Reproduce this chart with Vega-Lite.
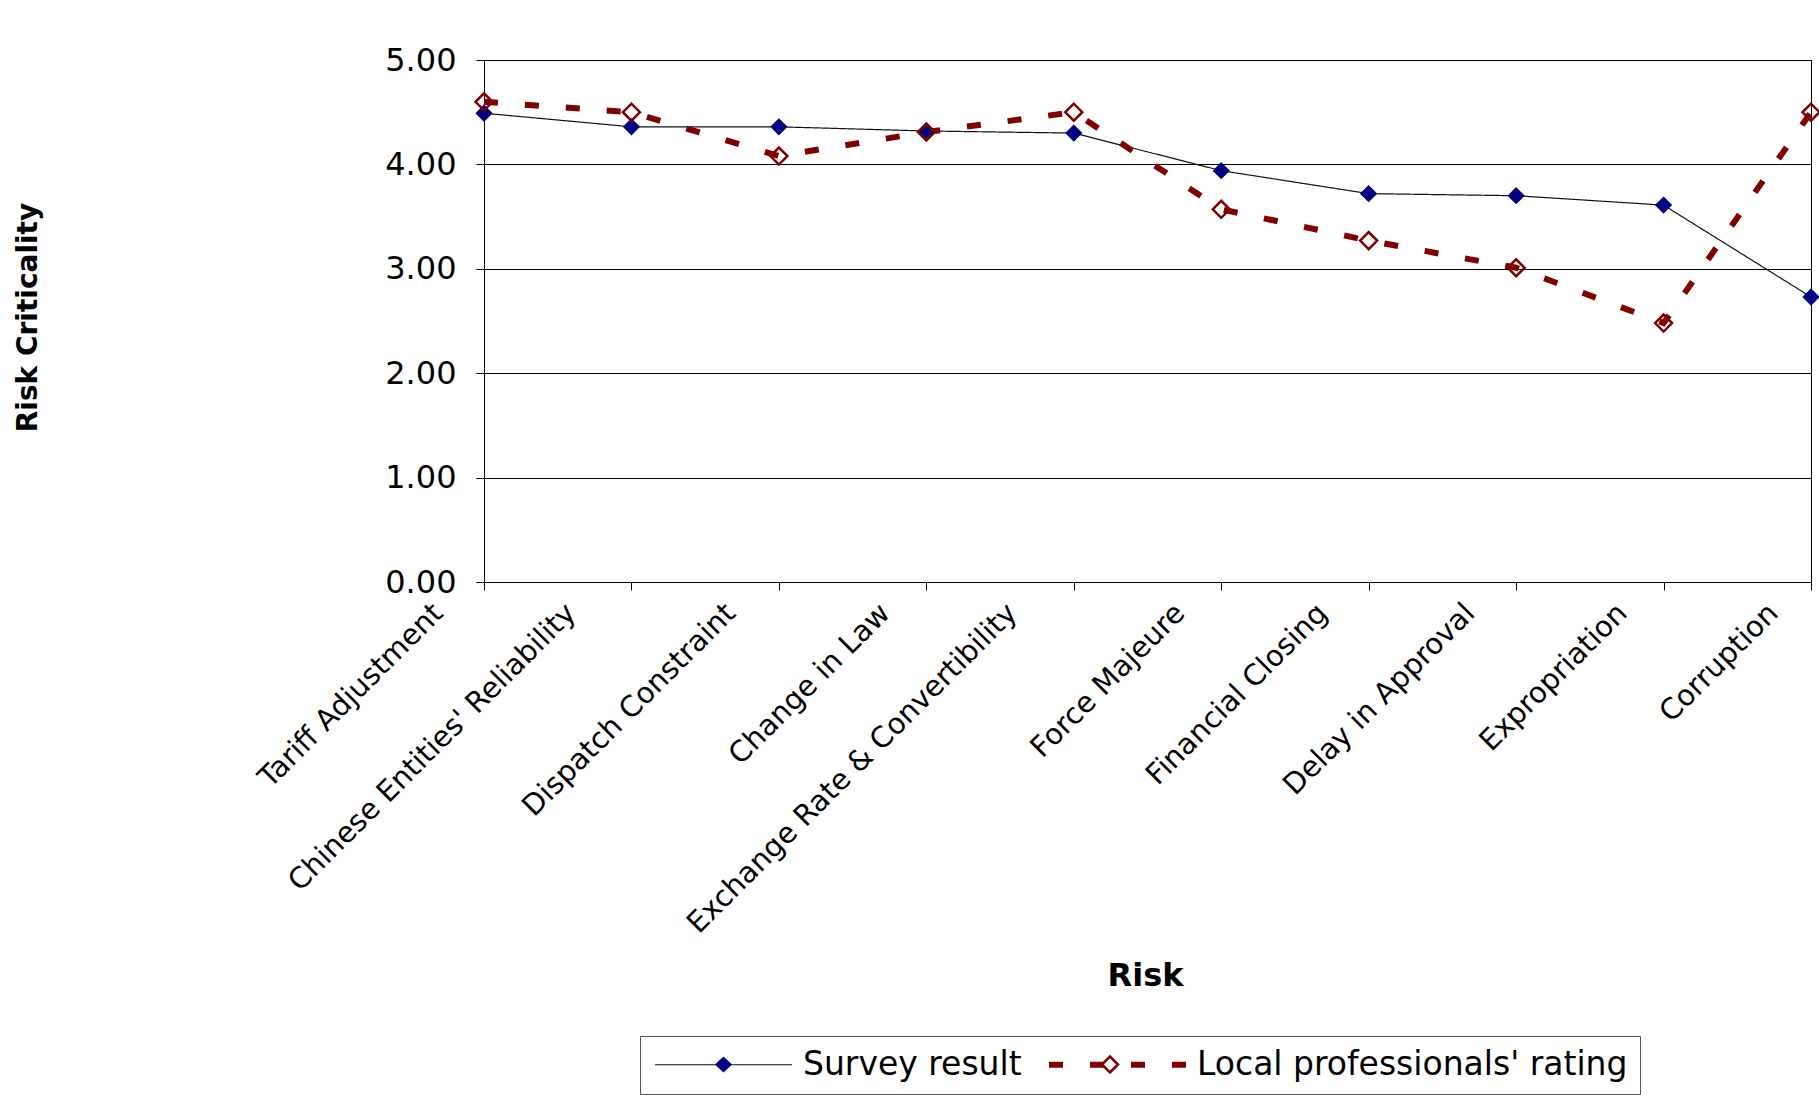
{
  "$schema": "https://vega.github.io/schema/vega-lite/v6.json",
  "width": 1327,
  "height": 522,
  "autosize": {"type": "none"},
  "padding": {"left": 484, "top": 60, "right": 8, "bottom": 513},
  "background": "white",
  "config": {
    "font": "DejaVu Sans",
    "view": {"stroke": "#000", "strokeWidth": 1}
  },
  "data": {
    "values": [
      {"risk": "Tariff Adjustment", "series": "Survey result", "value": 4.49},
      {"risk": "Chinese Entities' Reliability", "series": "Survey result", "value": 4.36},
      {"risk": "Dispatch Constraint", "series": "Survey result", "value": 4.36},
      {"risk": "Change in Law", "series": "Survey result", "value": 4.32},
      {"risk": "Exchange Rate & Convertibility", "series": "Survey result", "value": 4.30},
      {"risk": "Force Majeure", "series": "Survey result", "value": 3.94},
      {"risk": "Financial Closing", "series": "Survey result", "value": 3.72},
      {"risk": "Delay in Approval", "series": "Survey result", "value": 3.70},
      {"risk": "Expropriation", "series": "Survey result", "value": 3.61},
      {"risk": "Corruption", "series": "Survey result", "value": 2.73},
      {"risk": "Tariff Adjustment", "series": "Local professionals' rating", "value": 4.60},
      {"risk": "Chinese Entities' Reliability", "series": "Local professionals' rating", "value": 4.50},
      {"risk": "Dispatch Constraint", "series": "Local professionals' rating", "value": 4.08},
      {"risk": "Change in Law", "series": "Local professionals' rating", "value": 4.31},
      {"risk": "Exchange Rate & Convertibility", "series": "Local professionals' rating", "value": 4.50},
      {"risk": "Force Majeure", "series": "Local professionals' rating", "value": 3.57},
      {"risk": "Financial Closing", "series": "Local professionals' rating", "value": 3.27},
      {"risk": "Delay in Approval", "series": "Local professionals' rating", "value": 3.01},
      {"risk": "Expropriation", "series": "Local professionals' rating", "value": 2.48},
      {"risk": "Corruption", "series": "Local professionals' rating", "value": 4.50}
    ]
  },
  "encoding": {
    "x": {
      "field": "risk",
      "type": "nominal",
      "sort": ["Tariff Adjustment", "Chinese Entities' Reliability", "Dispatch Constraint", "Change in Law", "Exchange Rate & Convertibility", "Force Majeure", "Financial Closing", "Delay in Approval", "Expropriation", "Corruption"],
      "scale": {"type": "point", "padding": 0},
      "axis": {
        "title": "Risk",
        "labelAngle": -45,
        "labelAlign": "right",
        "labelBaseline": "middle",
        "labelFontSize": 29,
        "labelColor": "#000",
        "labelOffset": {"expr": "-26 - 1.2 * length(datum.value)"},
        "labelPadding": 18,
        "labelLimit": 800,
        "labelOverlap": false,
        "tickSize": 8,
        "tickColor": "#000",
        "domainColor": "#000",
        "grid": false,
        "titleFontSize": 32,
        "titleFontWeight": "bold",
        "titleColor": "#000",
        "titleX": 661,
        "titleY": 393,
        "titleAlign": "center",
        "titleBaseline": "middle"
      }
    },
    "y": {
      "field": "value",
      "type": "quantitative",
      "scale": {"domain": [0, 5], "nice": false},
      "axis": {
        "title": "Risk Criticality",
        "values": [0, 1, 2, 3, 4, 5],
        "format": ".2f",
        "labelFontSize": 32,
        "labelColor": "#000",
        "labelPadding": 20,
        "tickSize": 8,
        "tickColor": "#000",
        "domainColor": "#000",
        "grid": true,
        "gridColor": "#000",
        "gridWidth": 1,
        "titleFontSize": 28,
        "titleFontWeight": "bold",
        "titleColor": "#000",
        "titleX": -456,
        "titleY": 257,
        "titleAngle": -90,
        "titleAlign": "center",
        "titleBaseline": "middle"
      }
    }
  },
  "layer": [
    {
      "mark": {"type": "line"},
      "encoding": {
        "stroke": {
          "field": "series",
          "type": "nominal",
          "sort": "descending",
          "scale": {"range": ["#111111", "#800000"]},
          "legend": {
            "orient": "none", "legendX": 156, "legendY": 976, "direction": "horizontal", "title": null,
            "labelFontSize": 33, "labelColor": "#000", "labelLimit": 1000,
            "symbolSize": 400, "symbolType": "M-6.85,0H6.85", "symbolOffset": 55, "labelOffset": 63,
            "columnPadding": 15, "padding": 12, "strokeColor": "#555"
          }
        },
        "strokeDash": {
          "field": "series",
          "type": "nominal",
          "sort": "descending",
          "scale": {"range": [[1, 0], [14, 27]]},
          "legend": {
            "orient": "none", "legendX": 156, "legendY": 976, "direction": "horizontal", "title": null,
            "labelFontSize": 33, "labelColor": "#000", "labelLimit": 1000,
            "symbolSize": 400, "symbolType": "M-6.85,0H6.85", "symbolOffset": 55, "labelOffset": 63,
            "columnPadding": 15, "padding": 12, "strokeColor": "#555"
          }
        },
        "strokeWidth": {
          "field": "series",
          "type": "ordinal",
          "sort": "descending",
          "scale": {"range": [1.2, 6]},
          "legend": {
            "orient": "none", "legendX": 156, "legendY": 976, "direction": "horizontal", "title": null,
            "labelFontSize": 33, "labelColor": "#000", "labelLimit": 1000,
            "symbolSize": 400, "symbolType": "M-6.85,0H6.85", "symbolOffset": 55, "labelOffset": 63,
            "columnPadding": 15, "padding": 12, "strokeColor": "#555"
          }
        }
      }
    },
    {
      "resolve": {"scale": {"color": "independent", "fill": "independent"}},
      "layer": [
        {
          "transform": [{"filter": "datum.series === 'Survey result'"}],
          "mark": {"type": "point", "shape": "diamond", "filled": false, "size": 230, "strokeWidth": 1.5, "opacity": 1},
          "encoding": {
            "color": {
              "field": "series",
              "type": "nominal",
              "scale": {"domain": ["Survey result"], "range": ["#000080"]},
              "legend": {
                "orient": "none", "legendX": 156, "legendY": 976, "title": null,
                "labelFontSize": 33, "labelExpr": "''",
                "symbolSize": 400, "symbolType": "M0,-0.7L0.75,0L0,0.7L-0.75,0Z", "symbolOffset": 55,
                "symbolStrokeWidth": 1.5, "padding": 12
              }
            },
            "fill": {
              "field": "series",
              "type": "nominal",
              "scale": {"domain": ["Survey result"], "range": ["#000080"]},
              "legend": {
                "orient": "none", "legendX": 156, "legendY": 976, "title": null,
                "labelFontSize": 33, "labelExpr": "''",
                "symbolSize": 400, "symbolType": "M0,-0.7L0.75,0L0,0.7L-0.75,0Z", "symbolOffset": 55,
                "symbolStrokeWidth": 1.5, "padding": 12
              }
            }
          }
        },
        {
          "transform": [{"filter": "datum.series !== 'Survey result'"}],
          "mark": {"type": "point", "shape": "diamond", "filled": false, "size": 289, "strokeWidth": 2.5, "opacity": 1},
          "encoding": {
            "color": {
              "field": "series",
              "type": "nominal",
              "scale": {"domain": ["Local professionals' rating"], "range": ["#800000"]},
              "legend": {
                "orient": "none", "legendX": 542.5, "legendY": 976, "title": null,
                "labelFontSize": 33, "labelExpr": "''",
                "symbolSize": 400, "symbolType": "M0,-0.8L0.8,0L0,0.8L-0.8,0Z", "symbolOffset": 55,
                "symbolStrokeWidth": 2.5, "padding": 12
              }
            },
            "fill": {
              "field": "series",
              "type": "nominal",
              "scale": {"domain": ["Local professionals' rating"], "range": ["transparent"]},
              "legend": {
                "orient": "none", "legendX": 542.5, "legendY": 976, "title": null,
                "labelFontSize": 33, "labelExpr": "''",
                "symbolSize": 400, "symbolType": "M0,-0.8L0.8,0L0,0.8L-0.8,0Z", "symbolOffset": 55,
                "symbolStrokeWidth": 2.5, "padding": 12
              }
            }
          }
        }
      ]
    }
  ]
}
